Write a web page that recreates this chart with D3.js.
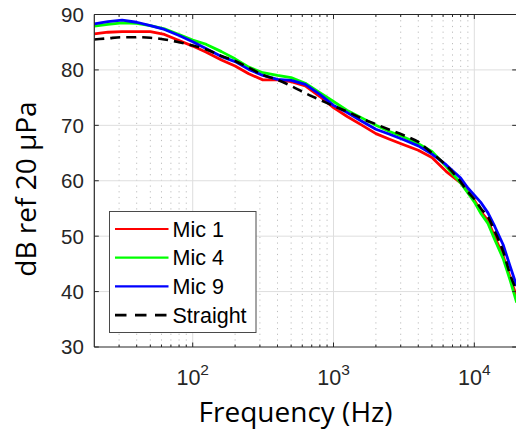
<!DOCTYPE html>
<html>
<head>
<meta charset="utf-8">
<script src="https://cdn.jsdelivr.net/npm/d3@7/dist/d3.min.js"></script>
<style>
  html, body { margin: 0; padding: 0; background: #fff; }
  svg { display: block; }
</style>
</head>
<body>
<div id="chart"></div>
<script>
// Band centre frequencies (Hz), one-third octave with extra points near the top end
const freqs = [20, 25, 31.5, 40, 50, 63, 80, 100, 125, 160, 200, 250, 315, 400, 500, 630,
               800, 1000, 1250, 1600, 2000, 2500, 3150, 4000, 5000, 6300, 8000, 9000, 10000,
               11200, 12500, 14000, 16000, 18000, 20000];

// Levels in dB re 20 µPa
const mic1 = [86.5, 86.8, 86.9, 86.9, 86.9, 86.4, 85.3, 84.3, 83.2, 81.8, 80.7, 79.3, 78.2, 78.2,
              77.9, 77.1, 75.2, 73.2, 71.6, 70.0, 68.5, 67.5, 66.5, 65.5, 64.2, 61.7, 59.6, 58.0,
              56.5, 54.4, 52.8, 49.8, 46.5, 42.5, 39.0];
const mic4 = [87.9, 88.2, 88.5, 88.4, 88.0, 87.4, 86.4, 85.4, 84.6, 83.3, 82.0, 80.5, 79.5, 79.0,
              78.6, 77.6, 75.9, 74.3, 72.7, 71.3, 70.0, 68.9, 67.9, 66.7, 65.3, 62.6, 59.6, 57.8,
              56.2, 54.0, 52.3, 49.3, 46.0, 42.0, 38.0];
const mic9 = [88.3, 88.7, 89.0, 88.6, 88.0, 87.3, 86.2, 85.1, 83.8, 82.4, 81.5, 80.1, 79.0, 78.3,
              78.1, 77.4, 75.6, 73.6, 72.3, 70.7, 69.3, 68.4, 67.4, 66.3, 64.8, 62.9, 60.5, 58.7,
              57.4, 56.0, 54.2, 51.7, 48.5, 44.5, 41.0];
const straight = [85.5, 85.7, 85.9, 85.9, 85.8, 85.5, 85.0, 84.4, 83.7, 82.5, 81.6, 80.4, 79.1, 78.2,
                  77.1, 75.8, 74.6, 73.5, 72.5, 71.2, 70.2, 69.2, 68.2, 67.0, 65.0, 62.8, 59.8, 58.0,
                  56.7, 54.9, 53.5, 50.8, 47.3, 43.0, 40.1];

const seriesNames = ["Mic 1", "Mic 4", "Mic 9", "Straight"];
const seriesValues = [mic1, mic4, mic9, straight];
const seriesColors = ["#ff0000", "#00ff00", "#0000ff", "#000000"];

const yTicks = [30, 40, 50, 60, 70, 80, 90];
const xMajorTicks = [100, 1000, 10000];
const xTickLabels = [["10", "2"], ["10", "3"], ["10", "4"]];
const xLabel = "Frequency (Hz)";
const yLabel = "dB ref 20 μPa";

const W = 516, H = 439;
const pLeft = 94.3, pRight = 516.7, pTop = 14.5, pBottom = 347;
const axisColor = "#262626";

const svg = d3.select("#chart").append("svg")
  .attr("width", W).attr("height", H)
  .attr("viewBox", `0 0 ${W} ${H}`);

const x = d3.scaleLog().domain([20, 20000]).range([pLeft, pRight]);
const y = d3.scaleLinear().domain([30, 90]).range([pBottom, pTop]);

// minor decade positions 30..90, 200..900, ...
const minorTicks = x.ticks().filter(v => xMajorTicks.indexOf(v) < 0 && v > 20 && v < 20000);

const grid = svg.append("g");
grid.selectAll("line.minor").data(minorTicks).join("line")
  .attr("class", "minor")
  .attr("x1", d => x(d)).attr("x2", d => x(d))
  .attr("y1", pTop).attr("y2", pBottom)
  .attr("stroke", "#bdbdbd").attr("stroke-width", 1)
  .attr("stroke-dasharray", "1.2,4.5");
grid.selectAll("line.majx").data(xMajorTicks).join("line")
  .attr("class", "majx")
  .attr("x1", d => x(d)).attr("x2", d => x(d))
  .attr("y1", pTop).attr("y2", pBottom)
  .attr("stroke", "#dedede").attr("stroke-width", 1);
grid.selectAll("line.majy").data(yTicks.slice(1, -1)).join("line")
  .attr("class", "majy")
  .attr("x1", pLeft).attr("x2", pRight)
  .attr("y1", d => y(d)).attr("y2", d => y(d))
  .attr("stroke", "#dedede").attr("stroke-width", 1);

// data lines
const lineLinear = d3.line()
  .x((d, i) => x(freqs[i]))
  .y(d => y(d))
  .curve(d3.curveLinear);
const lineSmooth = d3.line()
  .x((d, i) => x(freqs[i]))
  .y(d => y(d))
  .curve(d3.curveMonotoneX);

const plot = svg.append("g");
seriesValues.forEach((vals, k) => {
  const isRef = seriesNames[k] === "Straight";
  plot.append("path")
    .datum(vals)
    .attr("d", isRef ? lineSmooth : lineLinear)
    .attr("fill", "none")
    .attr("stroke", seriesColors[k])
    .attr("stroke-width", isRef ? 2.6 : 2.8)
    .attr("stroke-linejoin", "round")
    .attr("stroke-dasharray", isRef ? "10,6" : null);
});

// axes box
const axes = svg.append("g").attr("stroke", axisColor).attr("stroke-width", 1.2);
axes.append("line").attr("x1", pLeft).attr("x2", pRight).attr("y1", pBottom).attr("y2", pBottom);
axes.append("line").attr("x1", pLeft).attr("x2", pRight).attr("y1", pTop).attr("y2", pTop);
axes.append("line").attr("x1", pLeft).attr("x2", pLeft).attr("y1", pTop).attr("y2", pBottom);
axes.append("line").attr("x1", pRight).attr("x2", pRight).attr("y1", pTop).attr("y2", pBottom);

// ticks (inward, on both sides)
const tk = svg.append("g").attr("stroke", axisColor).attr("stroke-width", 1);
minorTicks.forEach(v => {
  tk.append("line").attr("x1", x(v)).attr("x2", x(v)).attr("y1", pBottom).attr("y2", pBottom - 2.5);
  tk.append("line").attr("x1", x(v)).attr("x2", x(v)).attr("y1", pTop).attr("y2", pTop + 2.5);
});
xMajorTicks.forEach(v => {
  tk.append("line").attr("x1", x(v)).attr("x2", x(v)).attr("y1", pBottom).attr("y2", pBottom - 4.5);
  tk.append("line").attr("x1", x(v)).attr("x2", x(v)).attr("y1", pTop).attr("y2", pTop + 4.5);
});
yTicks.forEach(v => {
  tk.append("line").attr("x1", pLeft).attr("x2", pLeft + 4.5).attr("y1", y(v)).attr("y2", y(v));
  tk.append("line").attr("x1", pRight).attr("x2", pRight - 4.5).attr("y1", y(v)).attr("y2", y(v));
});

// tick labels
svg.append("g").selectAll("text").data(yTicks).join("text")
  .attr("x", pLeft - 10.5).attr("y", d => y(d)).attr("dy", "0.36em")
  .attr("text-anchor", "end")
  .attr("font-family", "'Liberation Sans', Arial, sans-serif")
  .attr("font-size", 20.5).attr("fill", axisColor)
  .text(d => d);

const xl = svg.append("g").selectAll("text").data(xMajorTicks).join("text")
  .attr("x", d => x(d)).attr("y", 385)
  .attr("text-anchor", "middle")
  .attr("font-family", "'Liberation Sans', Arial, sans-serif")
  .attr("font-size", 21.5).attr("fill", axisColor);
xl.append("tspan").text((d, i) => xTickLabels[i][0]);
xl.append("tspan").attr("dy", -10).attr("font-size", 15.5).text((d, i) => xTickLabels[i][1]);

// axis titles
svg.append("text")
  .attr("x", 295.5).attr("y", 421.5)
  .attr("text-anchor", "middle")
  .attr("font-family", "'Open Sans', 'Noto Sans', sans-serif")
  .attr("font-size", 28).attr("fill", "#000")
  .text(xLabel);
svg.append("text")
  .attr("transform", "translate(35.5,189) rotate(-90)")
  .attr("text-anchor", "middle")
  .attr("font-family", "'Open Sans', 'Noto Sans', sans-serif")
  .attr("font-size", 28).attr("fill", "#000")
  .text(yLabel);

// legend
const lg = svg.append("g");
lg.append("rect")
  .attr("x", 109.5).attr("y", 211.5).attr("width", 146.5).attr("height", 121)
  .attr("fill", "#fff").attr("stroke", "#4a4a4a").attr("stroke-width", 1);
seriesNames.forEach((name, k) => {
  const ly = 229 + k * 28.7;
  const isRef = name === "Straight";
  lg.append("line")
    .attr("x1", 115).attr("x2", 168.5).attr("y1", ly).attr("y2", ly)
    .attr("stroke", seriesColors[k]).attr("stroke-width", isRef ? 2.6 : 2.2)
    .attr("stroke-dasharray", isRef ? "11.5,8.5" : null);
  lg.append("text")
    .attr("x", 172.5).attr("y", ly).attr("dy", "0.36em")
    .attr("font-family", "'Liberation Sans', Arial, sans-serif")
    .attr("font-size", 21.5).attr("fill", "#000")
    .text(name);
});
</script>
</body>
</html>
